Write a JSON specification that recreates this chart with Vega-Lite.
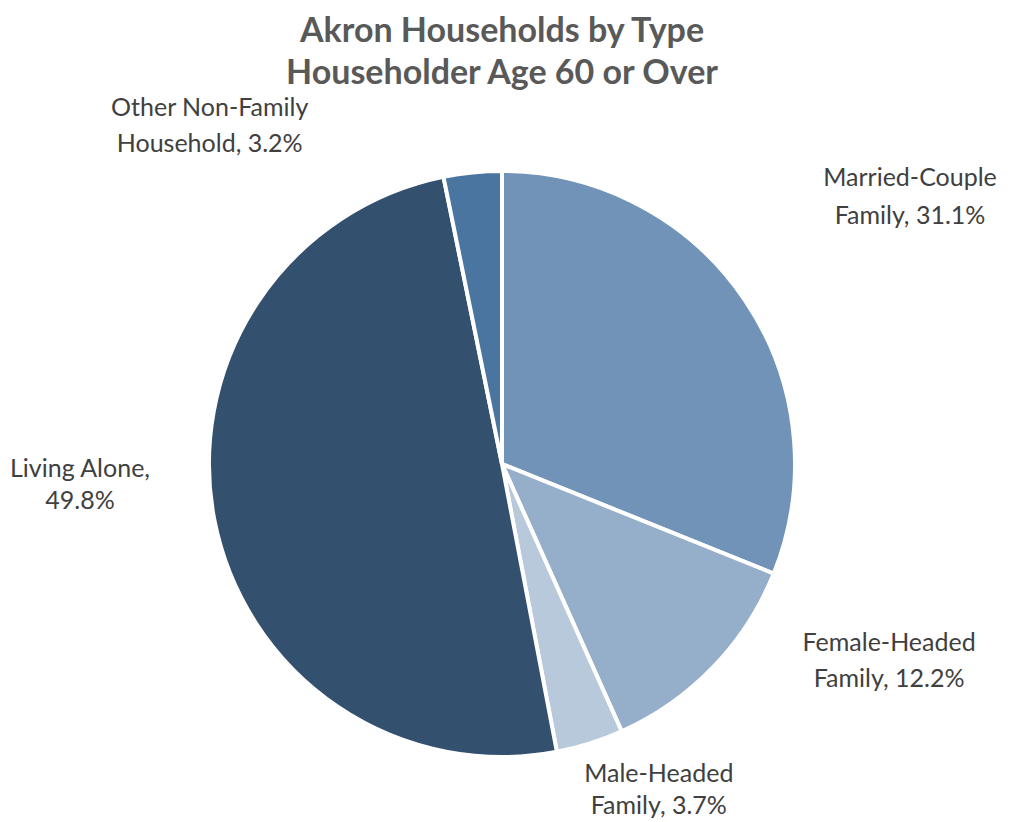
{
  "$schema": "https://vega.github.io/schema/vega-lite/v6.json",
  "width": 1004,
  "height": 728,
  "autosize": {"type": "none"},
  "padding": {"top": 100, "left": 0, "right": 7, "bottom": 0},
  "background": "white",
  "view": {"stroke": null},
  "title": {
    "text": ["Akron Households by Type", "Householder Age 60 or Over"],
    "font": "Lato",
    "fontSize": 34,
    "fontWeight": "bold",
    "color": "#595959",
    "lineHeight": 42,
    "anchor": "middle",
    "frame": "group",
    "offset": 5
  },
  "data": {
    "values": [
      {"type": "Married-Couple Family", "share": 31.1, "rank": 1, "label": "Married-Couple\nFamily, 31.1%"},
      {"type": "Female-Headed Family", "share": 12.2, "rank": 2, "label": "Female-Headed\nFamily, 12.2%"},
      {"type": "Male-Headed Family", "share": 3.7, "rank": 3, "label": "Male-Headed\nFamily, 3.7%"},
      {"type": "Living Alone", "share": 49.8, "rank": 4, "label": "Living Alone,\n49.8%"},
      {"type": "Other Non-Family Household", "share": 3.2, "rank": 5, "label": "Other Non-Family\nHousehold, 3.2%"}
    ]
  },
  "transform": [
    {"stack": "share", "groupby": [], "sort": [{"field": "rank", "order": "ascending"}], "as": ["s0", "s1"]}
  ],
  "layer": [
    {
      "mark": {"type": "arc", "outerRadius": 293, "stroke": "white", "strokeWidth": 4},
      "encoding": {
        "theta": {"field": "s0", "type": "quantitative", "scale": {"domain": [0, 100]}},
        "theta2": {"field": "s1"},
        "color": {
          "field": "type",
          "type": "nominal",
          "scale": {
            "domain": ["Married-Couple Family", "Female-Headed Family", "Male-Headed Family", "Living Alone", "Other Non-Family Household"],
            "range": ["#7093B7", "#95AECA", "#B8C9DC", "#34506F", "#4A75A1"]
          },
          "legend": null
        }
      }
    },
    {
      "transform": [{"filter": "datum.type === 'Married-Couple Family'"}],
      "mark": {"type": "text", "radius": 286, "dx": 408, "dy": 0, "font": "Lato", "fontSize": 25, "color": "#404040", "lineBreak": "\n", "lineHeight": 38, "align": "center", "baseline": "middle"},
      "encoding": {
        "theta": {"field": "s0", "type": "quantitative"},
        "text": {"field": "label", "type": "nominal"}
      }
    },
    {
      "transform": [{"filter": "datum.type === 'Female-Headed Family'"}],
      "mark": {"type": "text", "radius": 426, "dx": -8, "dy": 20, "font": "Lato", "fontSize": 25, "color": "#404040", "lineBreak": "\n", "lineHeight": 36, "align": "center", "baseline": "middle"},
      "encoding": {
        "theta": {"field": "s0", "type": "quantitative"},
        "text": {"field": "label", "type": "nominal"}
      }
    },
    {
      "transform": [{"filter": "datum.type === 'Male-Headed Family'"}],
      "mark": {"type": "text", "radius": 347, "dx": 15, "dy": -7, "font": "Lato", "fontSize": 25, "color": "#404040", "lineBreak": "\n", "lineHeight": 32, "align": "center", "baseline": "middle"},
      "encoding": {
        "theta": {"field": "s0", "type": "quantitative"},
        "text": {"field": "label", "type": "nominal"}
      }
    },
    {
      "transform": [{"filter": "datum.type === 'Living Alone'"}],
      "mark": {"type": "text", "radius": 0, "dx": -422, "dy": 5, "font": "Lato", "fontSize": 25, "color": "#404040", "lineBreak": "\n", "lineHeight": 32, "align": "center", "baseline": "middle"},
      "encoding": {
        "theta": {"field": "s0", "type": "quantitative"},
        "text": {"field": "label", "type": "nominal"}
      }
    },
    {
      "transform": [{"filter": "datum.type === 'Other Non-Family Household'"}],
      "mark": {"type": "text", "radius": 407, "dx": -211, "dy": 43, "font": "Lato", "fontSize": 25, "color": "#404040", "lineBreak": "\n", "lineHeight": 36, "align": "center", "baseline": "middle"},
      "encoding": {
        "theta": {"field": "s0", "type": "quantitative"},
        "text": {"field": "label", "type": "nominal"}
      }
    }
  ]
}
